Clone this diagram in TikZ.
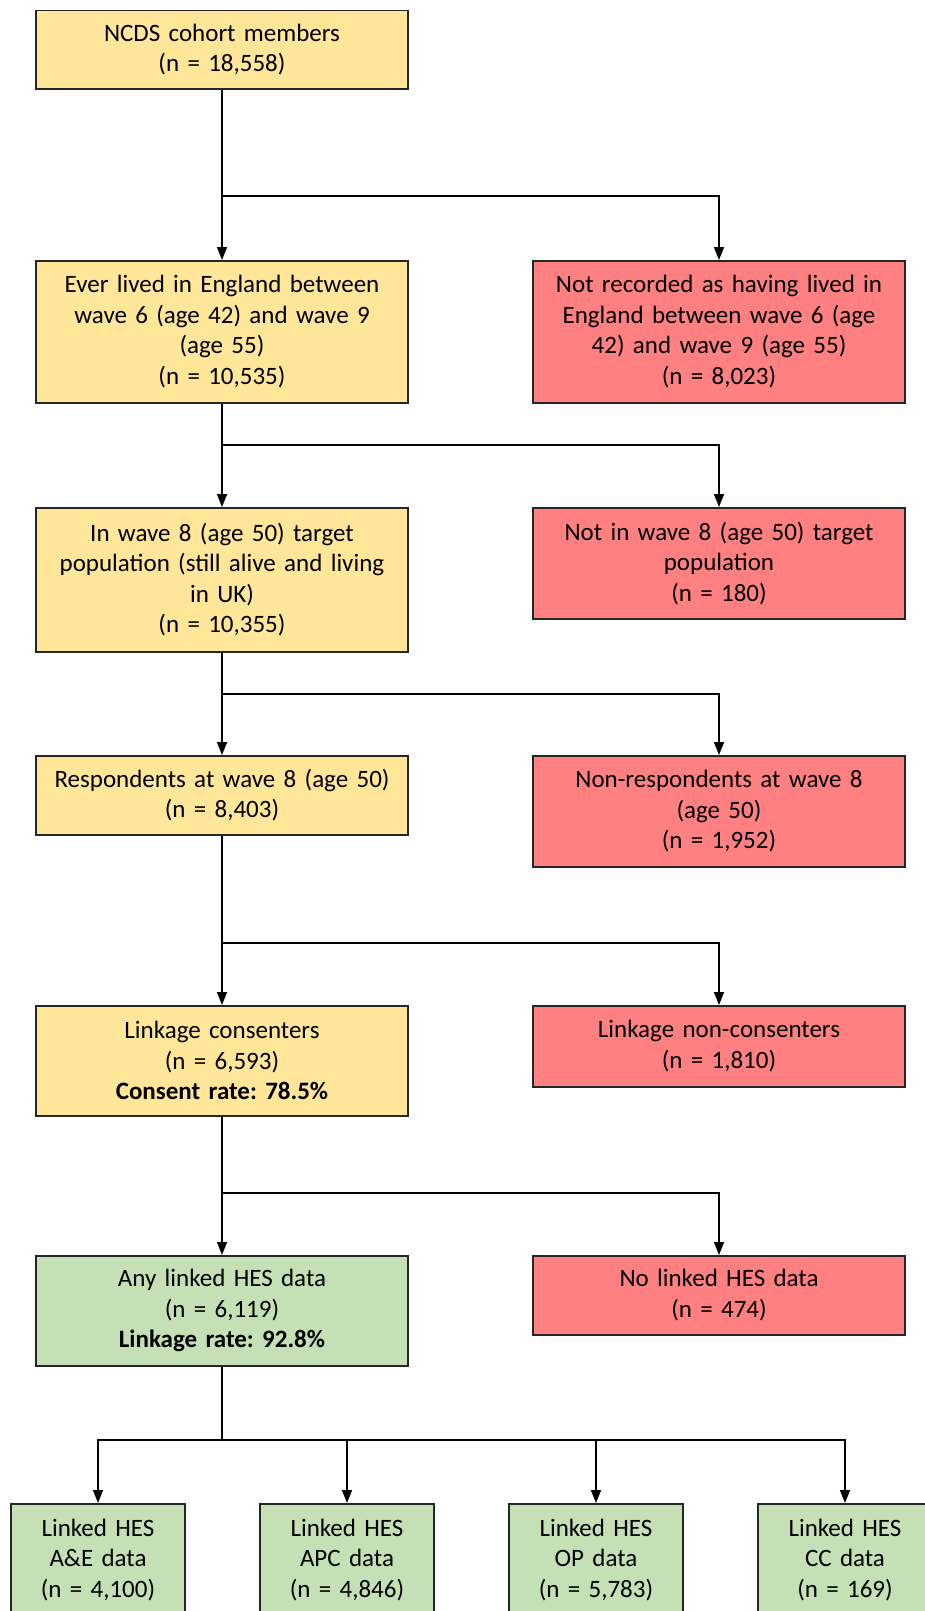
\documentclass[tikz,border=0pt]{standalone}
\usepackage{fontspec}
\setmainfont{Carlito}
\usepackage{tikz}
\usetikzlibrary{arrows.meta}
\frenchspacing

\definecolor{keepfill}{HTML}{FFE699}
\definecolor{dropfill}{HTML}{FF8080}
\definecolor{linkfill}{HTML}{C5E0B4}

\tikzset{
    box/.style={draw=black!85, line width=1.5pt, anchor=north, align=center, inner sep=0pt,
        minimum width=372pt, text width=366pt, font=\fontsize{25}{30.5}\selectfont},
    keep/.style={box, fill=keepfill},
    drop/.style={box, fill=dropfill},
    linked/.style={box, fill=linkfill},
    small/.style={linked, minimum width=174pt, text width=170pt, minimum height=112pt},
    arr/.style={-{Triangle[length=13pt,width=10pt]}, line width=1.5pt},
    ln/.style={line width=1.5pt}
}

\begin{document}
\begin{tikzpicture}[x=1pt,y=-1pt]
        \useasboundingbox (0,0) rectangle (925,1611);
        \clip (0,0) rectangle (925,1611);
        \fill[white] (0,0) rectangle (925,1611);

        \node[keep, minimum height=78pt] (a) at (222,10) {NCDS cohort members\\(n = 18,558)};
        \node[keep, minimum height=142pt] (b) at (222,260) {Ever lived in England between\\wave 6 (age 42) and wave 9\\(age 55)\\(n = 10,535)};
        \node[drop, minimum height=142pt] (b2) at (719,260) {Not recorded as having lived in\\England between wave 6 (age\\42) and wave 9 (age 55)\\(n = 8,023)};
        \node[keep, minimum height=144pt] (c) at (222,507) {In wave 8 (age 50) target\\population (still alive and living\\in UK)\\(n = 10,355)};
        \node[drop, minimum height=111pt] (c2) at (719,507) {Not in wave 8 (age 50) target\\population\\(n = 180)};
        \node[keep, minimum height=79pt] (d) at (222,755) {Respondents at wave 8 (age 50)\\(n = 8,403)};
        \node[drop, minimum height=111pt] (d2) at (719,755) {Non-respondents at wave 8\\(age 50)\\(n = 1,952)};
        \node[keep, minimum height=110pt] (e) at (222,1005) {Linkage consenters\\(n = 6,593)\\\textbf{Consent rate: 78.5\%}};
        \node[drop, minimum height=81pt] (e2) at (719,1005) {Linkage non-consenters\\(n = 1,810)};
        \node[linked, minimum height=110pt] (f) at (222,1255) {Any linked HES data\\(n = 6,119)\\\textbf{Linkage rate: 92.8\%}};
        \node[drop, minimum height=79pt] (f2) at (719,1255) {No linked HES data\\(n = 474)};

        % bottom row
        \node[small] (g1) at (98,1503) {Linked HES\\A\&E data\\(n = 4,100)};
        \node[small] (g2) at (347,1503) {Linked HES\\APC data\\(n = 4,846)};
        \node[small] (g3) at (596,1503) {Linked HES\\OP data\\(n = 5,783)};
        \node[small] (g4) at (845,1503) {Linked HES\\CC data\\(n = 169)};

        % branch points
        \coordinate (j1) at (222,196);
        \coordinate (j2) at (222,445);
        \coordinate (j3) at (222,694);
        \coordinate (j4) at (222,943);
        \coordinate (j5) at (222,1193);
        \coordinate (j6) at (222,1440);

        %down the left column
        \draw[arr] (a) -- (b);
        \draw[arr] (b) -- (c);
        \draw[arr] (c) -- (d);
        \draw[arr] (d) -- (e);
        \draw[arr] (e) -- (f);
        %out to the right
        \draw[arr] (j1) -| (b2);
        \draw[arr] (j2) -| (c2);
        \draw[arr] (j3) -| (d2);
        \draw[arr] (j4) -| (e2);
        \draw[arr] (j5) -| (f2);
        %HES data sets
        \draw[ln] (f) -- (j6);
        \draw[arr] (j6) -| (g1);
        \draw[arr] (j6) -| (g2);
        \draw[arr] (j6) -| (g3);
        \draw[arr] (j6) -| (g4);
\end{tikzpicture}
\end{document}
